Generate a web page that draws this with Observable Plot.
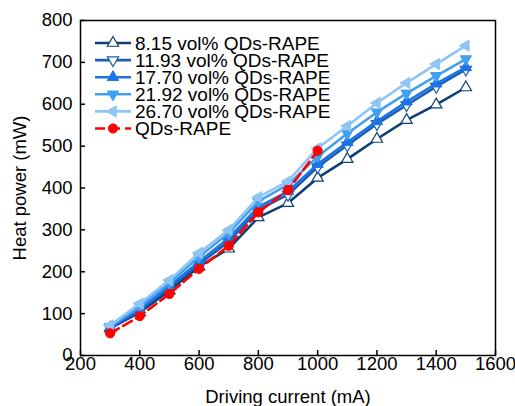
<!DOCTYPE html>
<html>
<head>
<meta charset="utf-8">
<script src="https://cdn.jsdelivr.net/npm/d3@7"></script>
<script src="https://cdn.jsdelivr.net/npm/@observablehq/plot@0.6"></script>
<style>
  html, body { margin: 0; padding: 0; background: #fff; }
  #chart { position: relative; width: 515px; height: 406px; }
  svg { font-family: "Liberation Sans", Arial, sans-serif; }
</style>
</head>
<body>
<div id="chart"></div>
<script>
// Driving current (mA)
const current = [300, 400, 500, 600, 700, 800, 900, 1000, 1100, 1200, 1300, 1400, 1500];
const currentRef = [300, 400, 500, 600, 700, 800, 900, 1000];

// Heat power (mW)
const p815  = [65, 103, 155, 212, 255, 330, 364, 424, 469, 517, 562, 599, 640];
const p1193 = [66, 108, 162, 218, 272, 348, 384, 450, 502, 553, 598, 642, 683];
const p1770 = [67, 110, 166, 224, 280, 355, 392, 457, 509, 559, 606, 649, 688];
const p2192 = [69, 117, 173, 236, 292, 368, 408, 475, 530, 581, 626, 668, 708];
const p2670 = [72, 124, 180, 245, 300, 378, 416, 495, 548, 603, 651, 696, 740];
const pRef  = [53, 94, 147, 207, 262, 342, 395, 489];

const seriesNames = ["8.15 vol% QDs-RAPE", "11.93 vol% QDs-RAPE", "17.70 vol% QDs-RAPE",
                     "21.92 vol% QDs-RAPE", "26.70 vol% QDs-RAPE", "QDs-RAPE"];
const xTicks = [200, 400, 600, 800, 1000, 1200, 1400, 1600];
const yTicks = [0, 100, 200, 300, 400, 500, 600, 700, 800];

const styles = [
  {color: "#0f3f75", symbol: "triangle", rotate: 0,   fill: "white"},
  {color: "#1d5fae", symbol: "triangle", rotate: 180, fill: "white"},
  {color: "#1a74e8", symbol: "triangle", rotate: 0,   fill: null},
  {color: "#42a0f0", symbol: "triangle", rotate: 180, fill: null},
  {color: "#8fc5f5", symbol: "triangle", rotate: -90, fill: null},
  {color: "#ff0000", symbol: "circle",   rotate: 0,   fill: null, dash: "10,5"}
];
const valueSets = [p815, p1193, p1770, p2192, p2670, pRef];

const marks = [];
valueSets.forEach((vals, i) => {
  const xs = i === 5 ? currentRef : current;
  const data = vals.map((v, j) => ({x: xs[j], y: v}));
  const st = styles[i];
  marks.push(Plot.line(data, {x: "x", y: "y", stroke: st.color, strokeWidth: 2.6,
    strokeDasharray: st.dash || null}));
  marks.push(Plot.dot(data, {x: "x", y: "y", symbol: st.symbol, rotate: st.rotate,
    r: st.symbol === "circle" ? 4.6 : 4.2,
    fill: st.fill || st.color, stroke: st.color, strokeWidth: st.fill ? 1.2 : 1}));
});

const plot = Plot.plot({
  width: 515,
  height: 406,
  marginLeft: 80,
  marginRight: 20,
  marginTop: 20,
  marginBottom: 51,
  style: {fontSize: "18.5px", fontFamily: "Liberation Sans, Arial, sans-serif", color: "#000", background: "white", overflow: "visible"},
  x: {domain: [200, 1600]},
  y: {domain: [0, 800]},
  marks: [
    Plot.axisX({ticks: xTicks, tickSize: -5, tickPadding: 6, tickFormat: d => String(d),
      label: "Driving current (mA)", labelAnchor: "center", labelOffset: 47, labelArrow: "none", strokeWidth: 1.5}),
    Plot.axisY({ticks: yTicks, tickSize: -5, tickPadding: 13, tickFormat: d => String(d),
      label: "Heat power (mW)", labelAnchor: "center", labelOffset: 68, labelArrow: "none", strokeWidth: 1.5}),
    ...marks,
    Plot.frame({stroke: "#000", strokeWidth: 1.5})
  ]
});
document.getElementById("chart").appendChild(plot);

// Legend (inside plot area, top-left)
const svg = d3.select(plot);
const lg = svg.append("g")
  .attr("font-family", "Liberation Sans, Arial, sans-serif")
  .attr("font-size", 19)
  .attr("text-anchor", "start");
const lx0 = 95, lx1 = 131, lmx = 113, ltx = 135, ly0 = 43, ldy = 17.1;
seriesNames.forEach((name, i) => {
  const st = styles[i];
  const y = ly0 + i * ldy;
  lg.append("line").attr("x1", lx0).attr("x2", lx1).attr("y1", y).attr("y2", y)
    .attr("stroke", st.color).attr("stroke-width", 2.6)
    .attr("stroke-dasharray", st.dash || null);
  const r = st.symbol === "circle" ? 4.6 : 4.2;
  const sym = st.symbol === "circle" ? d3.symbolCircle : d3.symbolTriangle;
  lg.append("path").attr("d", d3.symbol(sym, r * r * Math.PI)())
    .attr("transform", `translate(${lmx},${y}) rotate(${st.rotate})`)
    .attr("fill", st.fill || st.color).attr("stroke", st.color).attr("stroke-width", st.fill ? 1.2 : 1);
  lg.append("text").attr("x", ltx).attr("y", y).attr("dy", "0.36em")
    .attr("text-anchor", "start").attr("fill", "#000").text(name);
});
</script>
</body>
</html>
